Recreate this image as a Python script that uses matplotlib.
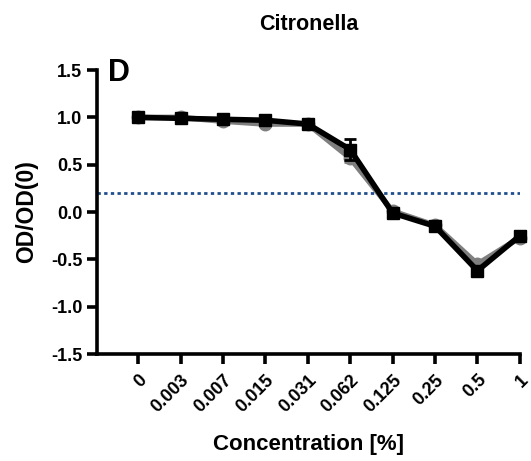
import matplotlib
matplotlib.use("Agg")
import matplotlib.pyplot as plt
import numpy as np

plt.rcParams['font.family'] = ['Liberation Sans', 'DejaVu Sans']
plt.rcParams['font.weight'] = 'bold'

conc_labels = ['0', '0.003', '0.007', '0.015', '0.031', '0.062', '0.125', '0.25', '0.5', '1']
rep_a = [1.00, 0.99, 0.98, 0.97, 0.93, 0.66, -0.01, -0.15, -0.62, -0.25]
rep_a_err = [0.02, 0.02, 0.02, 0.02, 0.03, 0.11, 0.02, 0.02, 0.03, 0.04]
rep_b = [1.00, 1.00, 0.96, 0.93, 0.93, 0.57, 0.01, -0.14, -0.55, -0.27]
rep_b_err = [0.01, 0.02, 0.02, 0.02, 0.02, 0.04, 0.02, 0.02, 0.02, 0.02]
threshold = 0.2

x = np.arange(len(conc_labels))

fig = plt.figure(figsize=(5.31, 4.61), dpi=100)
ax = fig.add_axes([0.1827, 0.232, 0.7963, 0.616])

# grey replicate underneath, black one on top
ax.errorbar(x, rep_b, yerr=rep_b_err, color='#7f7f7f', lw=4, marker='o', ms=9,
            capsize=4, elinewidth=2, capthick=2, clip_on=False, zorder=3)
ax.errorbar(x, rep_a, yerr=rep_a_err, color='black', lw=4, marker='s', ms=8,
            capsize=4, elinewidth=2, capthick=2, clip_on=False, zorder=4)

ax.axhline(threshold, color='#1f4e8c', ls=(0, (1.2, 1.2)), lw=2, zorder=2)

ax.set_xlim(-0.97, 9)
ax.set_ylim(-1.5, 1.5)
ax.set_yticks([-1.5, -1.0, -0.5, 0.0, 0.5, 1.0, 1.5])
ax.set_yticklabels(['-1.5', '-1.0', '-0.5', '0.0', '0.5', '1.0', '1.5'])
ax.set_xticks(x)
ax.set_xticklabels(conc_labels, rotation=45, ha='right', va='top',
                   rotation_mode='anchor')

for side in ['top', 'right']:
    ax.spines[side].set_visible(False)
for side in ['left', 'bottom']:
    ax.spines[side].set_linewidth(2.6)
ax.tick_params(width=2.6, length=7.5, labelsize=13, pad=3)
ax.tick_params(axis='x', pad=5)

ax.set_xlabel('Concentration [%]', fontsize=16, fontweight='bold')
ax.xaxis.set_label_coords(0.5, -0.283)
ax.set_ylabel('OD/OD(0)', fontsize=16.5, fontweight='bold')
ax.yaxis.set_label_coords(-0.14, 0.5)
ax.set_title('Citronella', fontsize=15.5, fontweight='bold', pad=29)
ax.text(0.026, 0.99, 'D', transform=ax.transAxes, fontsize=22, fontweight='bold',
        va='center', ha='left')

fig.savefig('out.png', dpi=100)
